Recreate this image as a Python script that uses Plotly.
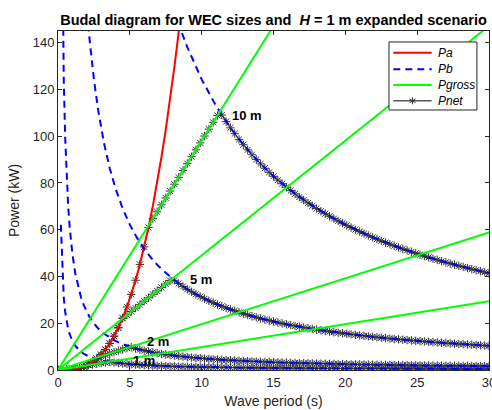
import plotly.graph_objects as go

# ---------------- data ----------------
T_GRID = [
    0.0, 0.3, 0.6, 0.9, 1.2, 1.5, 1.8, 2.1, 2.4, 2.7,
    3.0, 3.3, 3.6, 3.9, 4.2, 4.5, 4.8, 5.1, 5.4, 5.7,
    6.0, 6.3, 6.6, 6.9, 7.2, 7.5, 7.8, 8.1, 8.4, 8.7,
    9.0, 9.3, 9.6, 9.9, 10.2, 10.5, 10.8, 11.1, 11.4, 11.7,
    12.0, 12.3, 12.6, 12.9, 13.2, 13.5, 13.8, 14.1, 14.4, 14.7,
    15.0, 15.3, 15.6, 15.9, 16.2, 16.5, 16.8, 17.1, 17.4, 17.7,
    18.0, 18.3, 18.6, 18.9, 19.2, 19.5, 19.8, 20.1, 20.4, 20.7,
    21.0, 21.3, 21.6, 21.9, 22.2, 22.5, 22.8, 23.1, 23.4, 23.7,
    24.0, 24.3, 24.6, 24.9, 25.2, 25.5, 25.8, 26.1, 26.4, 26.7,
    27.0, 27.3, 27.6, 27.9, 28.2, 28.5, 28.8, 29.1, 29.4, 29.7,
    30.0,
]

PNET_1M = [
    0, 0.007, 0.05, 0.18, 0.42, 0.82, 1.42, 2.06, 2.35, 2.65,
    2.94, 3.24, 3.45, 3.19, 2.96, 2.76, 2.59, 2.44, 2.30, 2.18,
    2.07, 1.97, 1.88, 1.80, 1.73, 1.66, 1.59, 1.53, 1.48, 1.43,
    1.38, 1.34, 1.29, 1.26, 1.22, 1.18, 1.15, 1.12, 1.09, 1.06,
    1.04, 1.01, 0.99, 0.96, 0.94, 0.92, 0.90, 0.88, 0.86, 0.85,
    0.83, 0.81, 0.80, 0.78, 0.77, 0.75, 0.74, 0.73, 0.71, 0.70,
    0.69, 0.68, 0.67, 0.66, 0.65, 0.64, 0.63, 0.62, 0.61, 0.60,
    0.59, 0.58, 0.58, 0.57, 0.56, 0.55, 0.55, 0.54, 0.53, 0.52,
    0.52, 0.51, 0.51, 0.50, 0.49, 0.49, 0.48, 0.48, 0.47, 0.47,
    0.46, 0.46, 0.45, 0.45, 0.44, 0.44, 0.43, 0.43, 0.42, 0.42,
    0.41,
]
PNET_2M = [
    0, 0.007, 0.05, 0.18, 0.42, 0.82, 1.42, 2.26, 3.37, 4.80,
    5.89, 6.47, 7.06, 7.65, 8.24, 8.83, 9.42, 9.75, 9.20, 8.72,
    8.28, 7.89, 7.53, 7.20, 6.90, 6.63, 6.37, 6.14, 5.92, 5.71,
    5.52, 5.34, 5.18, 5.02, 4.87, 4.73, 4.60, 4.48, 4.36, 4.25,
    4.14, 4.04, 3.94, 3.85, 3.77, 3.68, 3.60, 3.52, 3.45, 3.38,
    3.31, 3.25, 3.19, 3.13, 3.07, 3.01, 2.96, 2.91, 2.86, 2.81,
    2.76, 2.72, 2.67, 2.63, 2.59, 2.55, 2.51, 2.47, 2.44, 2.40,
    2.37, 2.33, 2.30, 2.27, 2.24, 2.21, 2.18, 2.15, 2.12, 2.10,
    2.07, 2.05, 2.02, 2.00, 1.97, 1.95, 1.93, 1.90, 1.88, 1.86,
    1.84, 1.82, 1.80, 1.78, 1.76, 1.74, 1.73, 1.71, 1.69, 1.67,
    1.66,
]
PNET_5M = [
    0, 0.007, 0.05, 0.18, 0.42, 0.82, 1.42, 2.26, 3.37, 4.80,
    6.58, 8.76, 11.38, 14.46, 18.06, 22.07, 23.54, 25.02, 26.49, 27.96,
    29.43, 30.90, 32.37, 33.84, 35.32, 36.79, 38.26, 38.37, 37.00, 35.72,
    34.53, 33.42, 32.38, 31.39, 30.47, 29.60, 28.78, 28.00, 27.26, 26.56,
    25.90, 25.27, 24.67, 24.09, 23.55, 23.02, 22.52, 22.04, 21.58, 21.14,
    20.72, 20.31, 19.92, 19.55, 19.19, 18.84, 18.50, 18.18, 17.86, 17.56,
    17.27, 16.98, 16.71, 16.44, 16.19, 15.94, 15.70, 15.46, 15.24, 15.01,
    14.80, 14.59, 14.39, 14.19, 14.00, 13.81, 13.63, 13.45, 13.28, 13.11,
    12.95, 12.79, 12.63, 12.48, 12.33, 12.19, 12.05, 11.91, 11.77, 11.64,
    11.51, 11.38, 11.26, 11.14, 11.02, 10.91, 10.79, 10.68, 10.57, 10.46,
    10.36,
]
PNET_10M = [
    0, 0.007, 0.05, 0.18, 0.42, 0.82, 1.42, 2.26, 3.37, 4.80,
    6.58, 8.76, 11.38, 14.46, 18.06, 22.22, 26.96, 32.34, 38.39, 45.15,
    52.66, 60.96, 64.75, 67.69, 70.63, 73.58, 76.52, 79.46, 82.40, 85.35,
    88.29, 91.23, 94.18, 97.12, 100.06, 103.01, 105.95, 108.89, 109.04, 106.24,
    103.58, 101.06, 98.65, 96.36, 94.17, 92.07, 90.07, 88.16, 86.32, 84.56,
    82.87, 81.24, 79.68, 78.18, 76.73, 75.33, 73.99, 72.69, 71.44, 70.23,
    69.06, 67.92, 66.83, 65.77, 64.74, 63.74, 62.78, 61.84, 60.93, 60.05,
    59.19, 58.36, 57.55, 56.76, 55.99, 55.24, 54.52, 53.81, 53.12, 52.45,
    51.79, 51.15, 50.53, 49.92, 49.33, 48.75, 48.18, 47.62, 47.08, 46.55,
    46.04, 45.53, 45.04, 44.55, 44.08, 43.61, 43.16, 42.71, 42.28, 41.85,
    41.43,
]

# Pa (red) on the first 31 grid periods (0 .. 9 s)
PA_VAL = [
    0, 0.007, 0.05, 0.18, 0.42, 0.82, 1.42, 2.26, 3.37, 4.80,
    6.58, 8.76, 11.38, 14.46, 18.06, 22.22, 26.96, 32.34, 38.39, 45.15,
    52.66, 60.96, 70.09, 80.09, 91.00, 102.85, 115.70, 129.57, 144.50, 160.54,
    177.73,
]

# Pb (blue dashed)
PB_T = [0.2, 0.3, 0.4, 0.5, 0.6, 0.7, 0.8, 0.9, 1.0, 1.2,
        1.4, 1.6, 1.8, 2.0, 2.2, 2.5, 2.8, 3.2, 3.6, 4.0,
        4.5, 5.0, 5.5, 6.0, 6.5, 7.0, 7.5, 8.0, 8.5, 9.0,
        10, 11, 12, 13, 14, 15, 16, 18, 20, 22,
        24, 26, 28, 30]
PB_1M = [62.15, 41.43, 31.08, 24.86, 20.72, 17.76, 15.54, 13.81, 12.43, 10.36,
         8.88, 7.77, 6.91, 6.22, 5.65, 4.97, 4.44, 3.88, 3.45, 3.11,
         2.76, 2.49, 2.26, 2.07, 1.91, 1.78, 1.66, 1.55, 1.46, 1.38,
         1.24, 1.13, 1.04, 0.96, 0.89, 0.83, 0.78, 0.69, 0.62, 0.57,
         0.52, 0.48, 0.44, 0.41]
PB_2M = [248.6, 165.7, 124.3, 99.44, 82.87, 71.03, 62.15, 55.24, 49.72, 41.43,
         35.51, 31.08, 27.62, 24.86, 22.60, 19.89, 17.76, 15.54, 13.81, 12.43,
         11.05, 9.94, 9.04, 8.29, 7.65, 7.10, 6.63, 6.22, 5.85, 5.52,
         4.97, 4.52, 4.14, 3.82, 3.55, 3.31, 3.11, 2.76, 2.49, 2.26,
         2.07, 1.91, 1.78, 1.66]
PB_5M = [1554, 1036, 777, 621.6, 518, 444, 388.5, 345.3, 310.8, 259.0,
         222.0, 194.3, 172.7, 155.4, 141.3, 124.3, 111.0, 97.13, 86.33, 77.70,
         69.07, 62.16, 56.51, 51.80, 47.82, 44.40, 41.44, 38.85, 36.56, 34.53,
         31.08, 28.25, 25.90, 23.91, 22.20, 20.72, 19.43, 17.27, 15.54, 14.13,
         12.95, 11.95, 11.10, 10.36]
PB_10M = [6215, 4143, 3108, 2486, 2072, 1776, 1554, 1381, 1243, 1036,
          887.9, 776.9, 690.6, 621.5, 565.0, 497.2, 443.9, 388.4, 345.3, 310.8,
          276.2, 248.6, 226.0, 207.2, 191.2, 177.6, 165.7, 155.4, 146.2, 138.1,
          124.3, 113.0, 103.6, 95.62, 88.79, 82.87, 77.69, 69.06, 62.15, 56.50,
          51.79, 47.81, 44.39, 41.43]

# Pgross (green straight lines) end points
PGROSS_T = [0, 30]
PGROSS_1M = [0, 29.43]
PGROSS_2M = [0, 58.86]
PGROSS_5M = [0, 147.15]
PGROSS_10M = [0, 294.3]

SIZE_LABELS = ["1 m", "2 m", "5 m", "10 m"]
LABEL_T = [5.1, 6.05, 9.05, 12.0]
LABEL_P = [4.0, 12.4, 38.5, 109.0]

LEGEND_NAMES = ["Pa", "Pb", "Pgross", "Pnet"]

PNET = [PNET_1M, PNET_2M, PNET_5M, PNET_10M]
PB = [PB_1M, PB_2M, PB_5M, PB_10M]
PGROSS = [PGROSS_1M, PGROSS_2M, PGROSS_5M, PGROSS_10M]

for s in PNET:
    assert len(s) == len(T_GRID)
for s in PB:
    assert len(s) == len(PB_T)

FONT = "Liberation Sans, Arial, Helvetica, sans-serif"
AX = "#262626"
RED, BLUE, GREEN = "#FF0000", "#0000FF", "#00FF00"
DASH = "7px,5px"
MK = "#333333"

fig = go.Figure()

# Pnet (drawn first, underneath)
for i, s in enumerate(PNET):
    fig.add_trace(go.Scatter(
        x=T_GRID, y=s, mode="lines+markers", name="Pnet",
        line=dict(color="black", width=1),
        marker=dict(symbol="asterisk-open", size=7, color=MK,
                    line=dict(width=1, color=MK)),
    ))

# Pa
fig.add_trace(go.Scatter(
    x=T_GRID[:len(PA_VAL)], y=PA_VAL, mode="lines", name="Pa",
    line=dict(color=RED, width=2),
))

# Pb
for i, s in enumerate(PB):
    fig.add_trace(go.Scatter(
        x=PB_T, y=s, mode="lines", name="Pb",
        line=dict(color=BLUE, width=2, dash=DASH),
    ))

# Pgross
for i, s in enumerate(PGROSS):
    fig.add_trace(go.Scatter(
        x=PGROSS_T, y=s, mode="lines", name="Pgross",
        line=dict(color=GREEN, width=2),
    ))

for t, p, txt in zip(LABEL_T, LABEL_P, SIZE_LABELS):
    fig.add_annotation(x=t, y=p, text="<b>%s</b>" % txt, showarrow=False,
                       xanchor="left", yanchor="middle",
                       font=dict(family=FONT, size=13, color="black"))

# ---- MATLAB-style legend box (paper coordinates of the plot area) ----
LEG_X0, LEG_X1, LEG_Y0, LEG_Y1 = 0.768, 0.972, 0.767, 0.9676
SAMPLE_X0, SAMPLE_X1, TEXT_X = 0.778, 0.867, 0.876
ROW_Y = [0.936, 0.887, 0.841, 0.794]
legend_styles = [dict(color=RED, width=2),
                 dict(color=BLUE, width=2, dash=DASH),
                 dict(color=GREEN, width=2),
                 dict(color="black", width=1)]

fig.add_shape(type="rect", xref="paper", yref="paper", x0=LEG_X0, x1=LEG_X1,
              y0=LEG_Y0, y1=LEG_Y1, layer="above",
              line=dict(color=AX, width=1), fillcolor="white")
for name, ry, st in zip(LEGEND_NAMES, ROW_Y, legend_styles):
    fig.add_shape(type="line", xref="paper", yref="paper", x0=SAMPLE_X0,
                  x1=SAMPLE_X1, y0=ry, y1=ry, layer="above", line=st)
    fig.add_annotation(x=TEXT_X, y=ry, xref="paper", yref="paper",
                       text="<i>%s</i>" % name, showarrow=False,
                       xanchor="left", yanchor="middle",
                       font=dict(family=FONT, size=12, color="black"))
# asterisk marker on the Pnet sample
mx = (SAMPLE_X0 + SAMPLE_X1) / 2
my = ROW_Y[3]
for (dx0, dy0, dx1, dy1) in [(0, -3.5, 0, 3.5), (-3, -2, 3, 2), (-3, 2, 3, -2)]:
    fig.add_shape(type="line", xref="paper", yref="paper",
                  xsizemode="pixel", ysizemode="pixel", xanchor=mx, yanchor=my,
                  x0=dx0, x1=dx1, y0=dy0, y1=dy1, layer="above",
                  line=dict(color=MK, width=1))

fig.update_layout(
    width=492, height=410,
    margin=dict(l=58, r=3, t=31, b=40),
    paper_bgcolor="white", plot_bgcolor="white",
    showlegend=False,
    font=dict(family=FONT, color=AX),
    title=dict(text="<b>Budal diagram for WEC sizes and  <i>H</i> = 1 m expanded scenario</b>",
               x=0.5, xref="paper", xanchor="center",
               y=1 - 20 / 410, yref="container", yanchor="middle",
               font=dict(family=FONT, size=14.5, color="black"),
               automargin=False),
    xaxis=dict(range=[0, 30], tickvals=[0, 5, 10, 15, 20, 25, 30],
               ticks="inside", ticklen=4, tickcolor=AX, showline=True,
               linecolor=AX, linewidth=1, mirror="ticks", showgrid=False,
               zeroline=False, ticklabeloverflow="allow", automargin=False,
               tickfont=dict(family=FONT, size=13, color=AX),
               title=dict(text="Wave period (s)", standoff=7,
                          font=dict(family=FONT, size=14, color=AX))),
    yaxis=dict(range=[0, 145], tickvals=[0, 20, 40, 60, 80, 100, 120, 140],
               ticks="inside", ticklen=4, tickcolor=AX, showline=True,
               linecolor=AX, linewidth=1, mirror="ticks", showgrid=False,
               zeroline=False, ticklabeloverflow="allow", automargin=False,
               tickfont=dict(family=FONT, size=13, color=AX),
               title=dict(text="Power (kW)", standoff=9,
                          font=dict(family=FONT, size=14, color=AX))),
)

fig.write_html("out.html")
